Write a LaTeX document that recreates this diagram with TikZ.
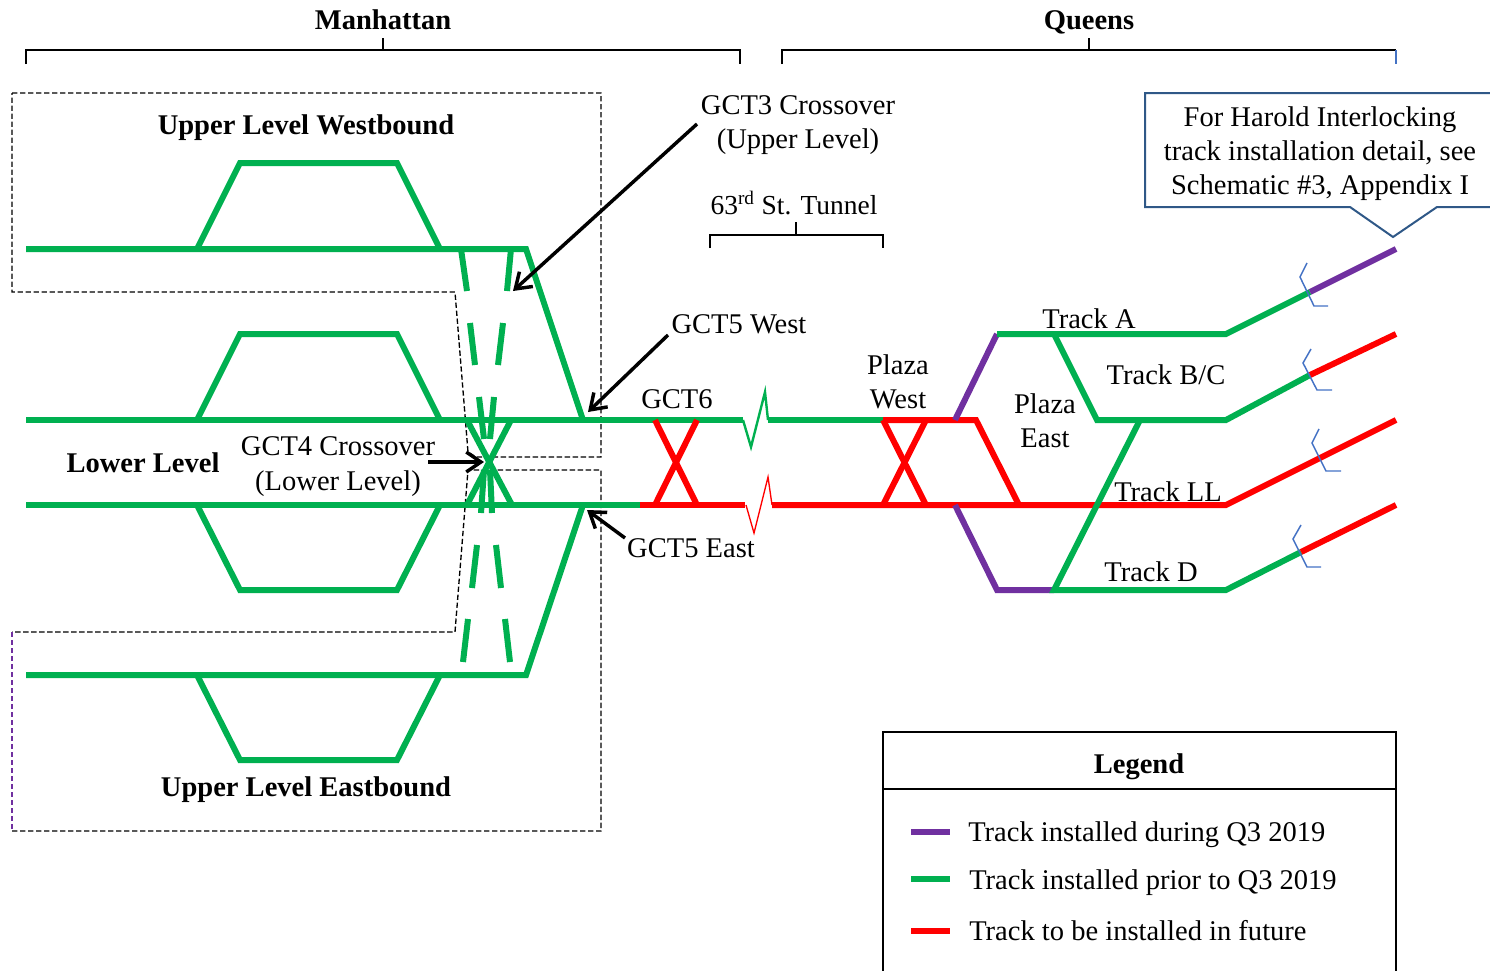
\documentclass[tikz,border=0pt]{standalone}
\usepackage{fontspec}
\setmainfont{Liberation Serif}
\usetikzlibrary{arrows.meta}
\definecolor{trackgreen}{RGB}{0,176,80}
\definecolor{trackpurple}{RGB}{112,48,160}
\definecolor{trackred}{RGB}{255,0,0}
\definecolor{calloutblue}{RGB}{47,88,135}
\definecolor{breakblue}{RGB}{68,114,196}
\begin{document}
\begin{tikzpicture}[x=0.75pt,y=-0.75pt,line join=miter,
	label/.style={font=\fontsize{21.4}{24}\selectfont, text height=0.68em, text depth=0.2em, inner sep=0pt, yshift=-4.5pt},
	title/.style={label, font=\fontsize{21.4}{24}\selectfont\bfseries},
	green/.style={draw=trackgreen, line width=4.5pt},
	red/.style={draw=trackred, line width=4.5pt},
	purple/.style={draw=trackpurple, line width=4.5pt},
	thingreen/.style={draw=trackgreen, line width=1.8pt},
	thinred/.style={draw=trackred, line width=1pt},
	brace/.style={draw=black, line width=1pt},
	zone/.style={draw=black, line width=1pt, dash pattern=on 4pt off 2pt},
	pointer/.style={-{Straight Barb[length=11pt,width=15pt]}, line width=2.6pt},
	cut/.style={draw=breakblue, line width=1.1pt}]
	\useasboundingbox (0,0) rectangle (1490,971);

	\node[title] (manhattan) at (383,20) {Manhattan};
	\node[title] (queens) at (1089,20) {Queens};
	\node[title] (westbound) at (306,125) {Upper Level Westbound};
	\node[title] (lower) at (143,463) {Lower Level};
	\node[title] (eastbound) at (306,787) {Upper Level Eastbound};
	\node[label] (gctthreea) at (798,105) {GCT3 Crossover};
	\node[label] (gctthreeb) at (798,139) {(Upper Level)};
	\node[label, font=\fontsize{20.6}{24}\selectfont] (tunnel) at (794,205) {63\textsuperscript{rd} St. Tunnel};
	\node[label] (gctfivew) at (739,324) {GCT5 West};
	\node[label] (gctsix) at (677,399) {GCT6};
	\node[label] (gctfoura) at (338,446) {GCT4 Crossover};
	\node[label] (gctfourb) at (338,481) {(Lower Level)};
	\node[label] (gctfivee) at (691,548) {GCT5 East};
	\node[label] (plazawa) at (898,365) {Plaza};
	\node[label] (plazawb) at (898,399) {West};
	\node[label] (plazaea) at (1045,404) {Plaza};
	\node[label] (plazaeb) at (1045,438) {East};
	\node[label] (tracka) at (1089,319) {Track A};
	\node[label] (trackbc) at (1166,375) {Track B/C};
	\node[label] (trackll) at (1168,492) {Track LL};
	\node[label] (trackd) at (1151,572) {Track D};

	\draw[brace] (26,64) -- (26,50) -- (740,50) -- (740,64);
	\draw[brace] (383,38) -- (383,50);
	\draw[brace] (782,64) -- (782,50) -- (1396,50);
	\draw[cut] (1396,50) -- (1396,64);
	\draw[brace] (1089,38) -- (1089,50);
	\draw[brace] (710,248) -- (710,235) -- (883,235) -- (883,248);
	\draw[brace] (796,222) -- (796,235);

	\draw[zone] (12,93) -- (601,93) -- (601,457) -- (476,457) -- (468,452) -- (455,292) -- (12,292) -- cycle;
	\draw[zone] (12,831) -- (601,831) -- (601,470) -- (468,470) -- (455,632) -- (12,632);
	\draw[draw=trackpurple, line width=1pt, dash pattern=on 4pt off 2pt] (12,632) -- (12,831);

	\draw[thingreen] (743,420) -- (751,447) -- (765,392) -- (768,420);
	\draw[thinred] (746,505) -- (754,533) -- (768,477) -- (772,505);

	\coordinate (uwa) at (26,249);
	\coordinate (uwb) at (526,249);
	\coordinate (uea) at (26,675);
	\coordinate (ueb) at (526,675);
	\coordinate (gw) at (583,420);
	\coordinate (ge) at (583,505);

	\draw[green] (uwa) -- (uwb) -- (gw);
	\draw[green] (uea) -- (ueb) -- (ge);
	\draw[green] (197,249) -- (240,163) -- (397,163) -- (440,249);
	\draw[green] (197,420) -- (240,334) -- (397,334) -- (440,420);
	\draw[green] (197,505) -- (240,590) -- (397,590) -- (440,505);
	\draw[green] (197,675) -- (240,760) -- (397,760) -- (440,675);
	\draw[green] (26,420) -- (743,420);
	\draw[green] (768,420) -- (883,420);
	\draw[green] (26,505) -- (640,505);

	\draw[green] (461,249) -- (467,291);
	\draw[green] (470,323) -- (475,365);
	\draw[green] (479,397) -- (484,439);
	\draw[green] (511,249) -- (507,291);
	\draw[green] (503,323) -- (498,365);
	\draw[green] (494,397) -- (490,439);
	\draw[green] (484,470) -- (481,513);
	\draw[green] (490,470) -- (492,513);
	\draw[green] (477,545) -- (472,588);
	\draw[green] (468,619) -- (463,662);
	\draw[green] (496,545) -- (501,588);
	\draw[green] (505,619) -- (510,662);
	\draw[green] (467,420) -- (512,505);
	\draw[green] (511,420) -- (467,505);

	\draw[red] (640,505) -- (745,505);
	\draw[red] (772,505) -- (1226,505) -- (1396,420);
	\draw[red] (883,420) -- (976,420) -- (1019,505);
	\draw[red] (655,420) -- (697,505);
	\draw[red] (697,420) -- (655,505);
	\draw[red] (883,420) -- (926,505);
	\draw[red] (926,420) -- (883,505);

	\draw[purple] (955,420) -- (997,334);
	\draw[purple] (955,505) -- (997,590) -- (1054,590);

	\draw[green] (997,334) -- (1226,334) -- (1310,292);
	\draw[purple] (1310,292) -- (1396,249);
	\draw[green] (1054,334) -- (1097,420) -- (1226,420) -- (1310,375);
	\draw[red] (1310,375) -- (1396,334);
	\draw[green] (1140,420) -- (1054,590) -- (1226,590) -- (1301,552);
	\draw[red] (1301,552) -- (1396,505);

	\draw[cut] (1307,263) -- (1300,277) -- (1314,306) -- (1328,306);
	\draw[cut] (1311,349) -- (1303,363) -- (1317,390) -- (1332,390);
	\draw[cut] (1319,429) -- (1312,443) -- (1326,471) -- (1341,471);
	\draw[cut] (1301,525) -- (1293,539) -- (1307,567) -- (1321,567);

	\draw[pointer] (697,124) -- (513,291);
	\draw[pointer] (668,335) -- (588,412);
	\draw[pointer] (428,462) -- (484,462);
	\draw[pointer] (625,538) -- (587,510);

	\draw[draw=calloutblue, line width=1.5pt] (1490,93) -- (1145,93) -- (1145,207) -- (1350,207) -- (1393,237) -- (1437,207) -- (1490,207);
	\node[label] (harolda) at (1320,117) {For Harold Interlocking};
	\node[label] (haroldb) at (1320,151) {track installation detail, see};
	\node[label] (haroldc) at (1320,185) {Schematic \#3, Appendix I};

	\draw[brace] (883,971) -- (883,732) -- (1396,732) -- (1396,971);
	\draw[brace] (883,789) -- (1396,789);
	\node[title] (legend) at (1139,764) {Legend};
	\draw[purple] (911,832) -- (950,832);
	\draw[green] (911,879) -- (950,879);
	\draw[red] (911,931) -- (950,931);
	\node[label, anchor=west] (installed) at (968,832) {Track installed during Q3 2019};
	\node[label, anchor=west] (prior) at (969,880) {Track installed prior to Q3 2019};
	\node[label, anchor=west] (future) at (969,931) {Track to be installed in future};
\end{tikzpicture}
\end{document}
